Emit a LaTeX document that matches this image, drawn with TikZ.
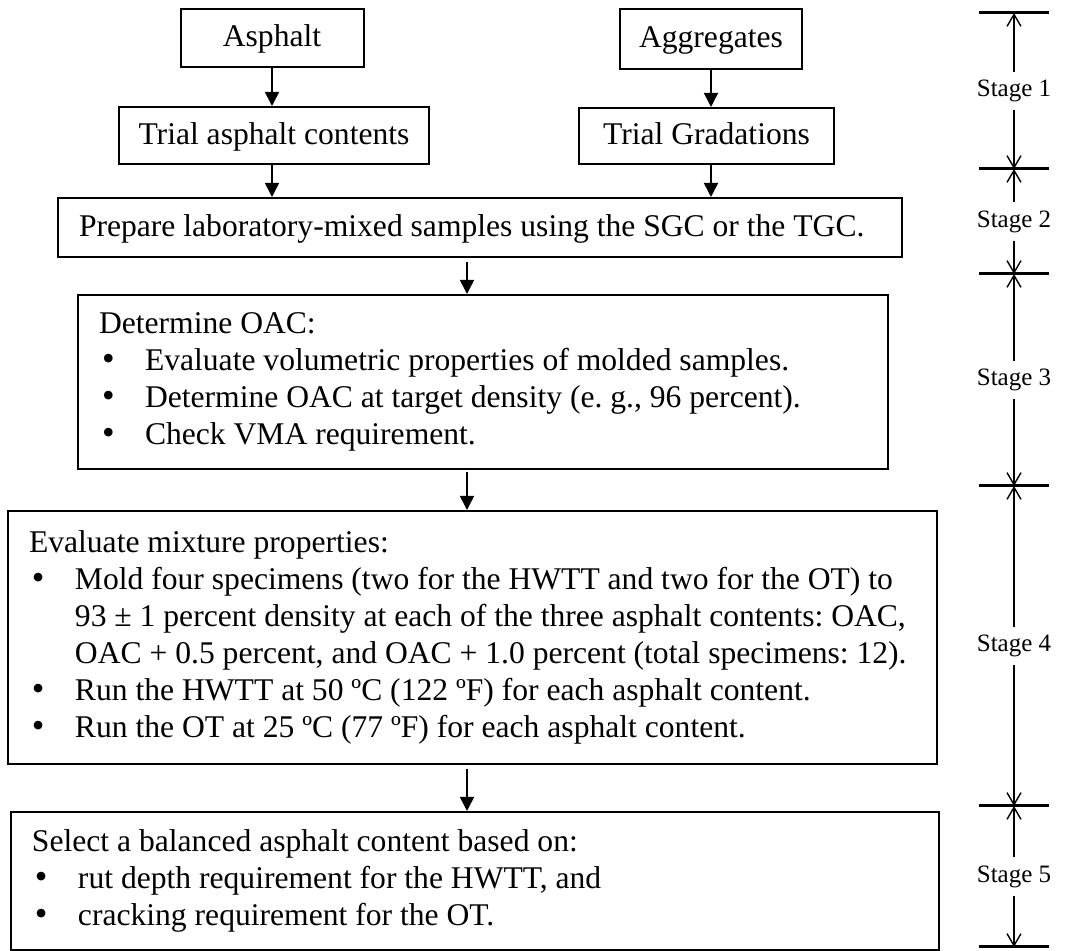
\documentclass[tikz,border=0pt]{standalone}
\usepackage{fontspec}
\setmainfont{Liberation Serif}
\usepackage{tikz}
\usetikzlibrary{arrows.meta, positioning, calc}
\tikzset{
  box/.style={rectangle, draw, line width=1pt, inner sep=0pt, align=center, text height=0.88em, text depth=0em},
  listbox/.style={rectangle, draw, line width=1pt, inner xsep=10.5pt, inner ysep=0pt, align=flush left, anchor=north west},
  arrow/.style={-{Triangle[length=7pt, width=7pt]}, line width=0.8pt},
  stagearr/.style={-{Straight Barb[length=6pt, width=7pt]}, line width=0.7pt},
  bar/.style={line width=1.5pt},
}
\newcommand{\bul}{\makebox[23pt][l]{\hspace{1.5pt}{\fontsize{18}{18}\selectfont\textbullet}}}
\newcommand{\ind}{\hspace*{23pt}}

\begin{document}
\frenchspacing
\begin{tikzpicture}[x=0.5pt, y=-0.5pt, font=\fontsize{15.8}{18.5}\selectfont,
  stage/.style={font=\fontsize{12.5}{14}\selectfont, inner xsep=0pt, inner ysep=4pt}
]
  \useasboundingbox (0,0) rectangle (1078,951);

  % Stage 1: materials
  \node[box, minimum width=91.5pt, minimum height=29pt] (asph) at (272,38) {Asphalt};
  \node[box, minimum width=91pt, minimum height=30pt] (aggr) at (711,39) {Aggregates};
  \node[box, minimum width=155pt, minimum height=28.5pt] (triA) at (274,135.5) {Trial asphalt contents};
  \node[box, minimum width=127.5pt, minimum height=28pt] (triG) at (706.5,136) {Trial Gradations};

  \draw[arrow] (asph.south) -- (asph.south |- triA.north);
  \draw[arrow] (aggr.south) -- (aggr.south |- triG.north);

  % Stage 2
  \node[listbox, minimum width=422pt, minimum height=29.5pt, text width=401pt,
        text height=0.88em, text depth=0em] (prep) at (57,197)
    {Prepare laboratory-mixed samples using the SGC or the TGC.};

  \draw[arrow] (triA.south -| asph.south) -- (prep.north -| asph.south);
  \draw[arrow] (triG.south -| aggr.south) -- (prep.north -| aggr.south);

  % Stage 3
  \node[listbox, minimum width=405pt, minimum height=87pt, text width=384pt] (oac) at (77,294)
    {Determine OAC:\\
     \bul Evaluate volumetric properties of molded samples.\\
     \bul Determine OAC at target density (e. g., 96 percent).\\
     \bul Check VMA requirement.};

  % Stage 4
  \node[listbox, minimum width=464.5pt, minimum height=126.5pt, text width=443.5pt] (eval) at (7,510)
    {Evaluate mixture properties:\\
     \bul Mold four specimens (two for the HWTT and two for the OT) to\\
     \ind 93 ± 1 percent density at each of the three asphalt contents: OAC,\\
     \ind OAC + 0.5 percent, and OAC + 1.0 percent (total specimens: 12).\\
     \bul Run the HWTT at 50 ºC (122 ºF) for each asphalt content.\\
     \bul Run the OT at 25 ºC (77 ºF) for each asphalt content.};

  % Stage 5
  \node[listbox, minimum width=464pt, minimum height=69pt, text width=443pt] (sel) at (10,811)
    {Select a balanced asphalt content based on:\\
     \bul rut depth requirement for the HWTT, and\\
     \bul cracking requirement for the OT.};

  \coordinate (col) at (467,0);
  \draw[arrow, shorten <=2pt] (prep.south -| col) -- (oac.north -| col);
  \draw[arrow, shorten <=1pt] (oac.south -| col) -- (eval.north -| col);
  \draw[arrow, shorten <=2pt] (eval.south -| col) -- (sel.north -| col);

  % Stage markers
  \coordinate (b0) at (1014,13);
  \coordinate (b1) at (1014,169);
  \coordinate (b2) at (1014,274);
  \coordinate (b3) at (1014,486);
  \coordinate (b4) at (1014,806);
  \coordinate (b5) at (1014,947);
  \foreach \c in {b0,b1,b2,b3,b4,b5}
    \draw[bar] ($(\c)+(-35,0)$) -- ($(\c)+(35,0)$);
  \foreach \a/\b/\n in {b0/b1/1, b1/b2/2, b2/b3/3, b3/b4/4, b4/b5/5} {
    \node[stage] (st\n) at ($(\a)!0.5!(\b)$) {Stage \n};
    \draw[stagearr] (st\n) -- (\a);
    \draw[stagearr] (st\n) -- (\b);
  }
\end{tikzpicture}
\end{document}
